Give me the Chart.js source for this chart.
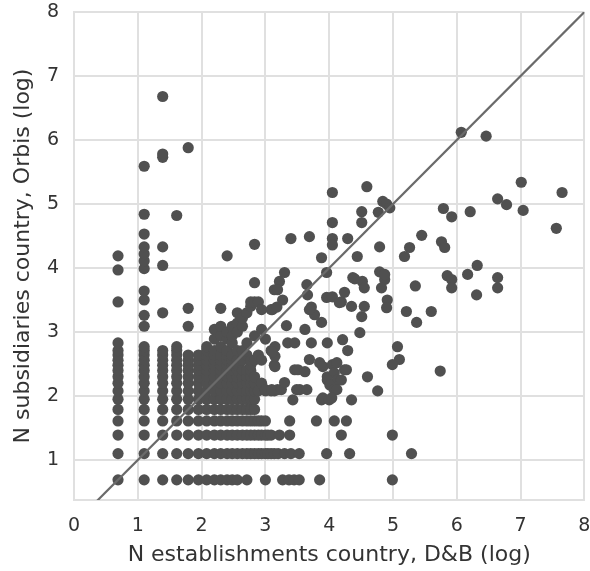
<!DOCTYPE html>
<html>
<head>
<meta charset="utf-8">
<script src="https://cdn.jsdelivr.net/npm/chart.js@4/dist/chart.umd.min.js"></script>
<style>
  html, body { margin: 0; padding: 0; background: #ffffff; }
  #wrap { width: 590px; height: 571px; }
</style>
</head>
<body>
<div id="wrap"><canvas id="c" width="590" height="571"></canvas></div>
<script>
// ---- data (log values) ----
const xTicks = [0, 1, 2, 3, 4, 5, 6, 7, 8];
const yTicks = [1, 2, 3, 4, 5, 6, 7, 8];
const diagonalX = [0, 8];
const diagonalY = [0, 8];

// columns of discrete log(count) values on the left part of the plot
const colX = [0.69, 1.10, 1.39, 1.61, 1.79, 1.95, 2.08, 2.20, 2.30, 2.40, 2.48, 2.56, 2.64, 2.71, 2.77, 2.83, 2.89, 2.94, 3.00, 3.04, 3.09, 3.14];
const colY = [
  [0.69,1.10,1.39,1.61,1.79,1.95,2.08,2.20,2.30,2.40,2.48,2.56,2.64,2.71,2.83,3.47,3.97,4.19],
  [0.69,1.10,1.39,1.61,1.79,1.95,2.08,2.20,2.30,2.40,2.48,2.56,2.64,2.71,2.77,3.09,3.26,3.50,3.64,3.99,4.11,4.22,4.33,4.53,4.84,5.59],
  [0.69,1.10,1.39,1.61,1.79,1.95,2.08,2.20,2.30,2.40,2.48,2.56,2.64,2.71,3.30,4.04,4.33,5.73,5.78,6.68],
  [0.69,1.10,1.39,1.61,1.79,1.95,2.08,2.20,2.30,2.40,2.48,2.56,2.64,2.71,2.77,4.82],
  [0.69,1.10,1.39,1.61,1.79,1.95,2.08,2.20,2.30,2.40,2.48,2.56,2.64,3.09,3.37,5.88],
  [0.69,1.10,1.39,1.61,1.79,1.95,2.08,2.20,2.30,2.40,2.48,2.56,2.64],
  [0.69,1.10,1.39,1.61,1.79,1.95,2.08,2.20,2.30,2.40,2.48,2.56,2.64,2.71,2.77],
  [0.69,1.10,1.39,1.61,1.79,1.95,2.08,2.20,2.30,2.40,2.48,2.56,2.64,2.71,2.89,3.04],
  [0.69,1.10,1.39,1.61,1.79,1.95,2.08,2.20,2.30,2.40,2.48,2.56,2.64,2.77,2.94,3.09,3.37],
  [0.69,1.10,1.39,1.61,1.79,1.95,2.08,2.20,2.30,2.40,2.48,2.56,2.64,2.71,2.89,3.00,4.19],
  [0.69,1.10,1.39,1.61,1.79,1.95,2.08,2.20,2.30,2.40,2.48,2.56,2.64,2.83,2.94,3.09],
  [0.69,1.10,1.39,1.61,1.79,1.95,2.08,2.20,2.30,2.40,2.48,2.56,2.71,3.00,3.14,3.30],
  [1.10,1.39,1.61,1.79,1.95,2.08,2.20,2.30,2.40,2.56,2.71,3.09,3.22],
  [0.69,1.10,1.39,1.61,1.79,1.95,2.08,2.20,2.30,2.40,2.64,2.83,3.30],
  [1.10,1.39,1.61,1.79,1.95,2.08,2.20,2.30,2.40,2.48,2.56,3.40,3.47],
  [1.10,1.39,1.61,1.79,1.95,2.08,2.20,2.30,2.56,2.94,3.47,3.77,4.37],
  [1.10,1.39,1.61,2.08,2.64,3.47],
  [1.10,1.39,1.61,2.20,2.56,3.04,3.35],
  [0.69,1.10,1.39,1.61,2.08,2.89],
  [1.10,1.39],
  [1.10,1.39,2.08,2.71,3.35],
  [1.10,2.08,2.48,3.66]
];

// remaining individual points
const otherX = [
  3.27,3.37,3.45,3.53,3.85,4.99,
  3.20,3.30,3.40,3.53,3.96,4.32,5.29,
  3.22,3.38,4.19,4.99,
  3.38,3.80,4.08,4.27,
  3.19,3.00,3.10,3.25,3.30,3.43,3.49,3.54,3.65,3.46,3.51,3.62,3.69,3.85,3.90,4.05,4.12,4.24,4.27,3.97,4.08,4.13,4.19,3.97,4.01,4.08,4.12,3.88,3.90,4.00,4.04,4.35,4.60,4.76,
  3.15,3.15,3.15,3.11,
  3.35,3.46,3.72,3.97,4.21,4.29,3.33,3.62,3.88,3.72,3.77,3.69,3.11,3.18,3.27,3.65,3.66,3.96,4.05,4.24,4.19,4.16,4.35,4.55,4.51,4.48,3.30,3.22,3.19,4.37,4.52,4.55,4.40,4.79,4.87,4.87,4.82,4.91,4.90,5.21,5.60,5.37,5.35,5.85,5.92,5.92,6.31,6.64,6.64,6.17,6.32,5.07,5.10,4.99,5.74,3.96,
  3.40,3.69,3.88,4.05,4.05,4.05,4.29,4.44,4.79,4.05,4.59,4.84,4.90,4.95,4.77,4.51,4.51,5.26,5.18,5.45,5.76,5.81,6.07,6.46,7.01,7.65,7.56,6.64,6.78,7.04,5.79,5.92,6.21
];
const otherY = [
  0.69,0.69,0.69,0.69,0.69,0.69,
  1.10,1.10,1.10,1.10,1.10,1.10,1.10,
  1.39,1.39,1.39,1.39,
  1.61,1.61,1.61,1.61,
  2.10,2.10,2.10,2.10,2.21,1.94,2.10,2.10,2.10,2.41,2.41,2.38,2.57,2.52,2.46,2.49,2.52,2.41,2.41,2.30,2.36,2.25,2.25,2.25,2.17,2.10,2.10,1.94,1.97,1.94,1.97,1.94,2.30,2.08,
  2.46,2.62,2.77,2.69,
  2.83,2.83,2.83,2.83,2.88,2.71,3.10,3.04,3.15,3.39,3.27,3.35,3.35,3.39,3.50,3.74,3.58,3.54,3.55,3.62,3.47,3.46,3.40,3.40,3.24,2.99,3.93,3.79,3.66,3.85,3.79,3.69,3.83,3.94,3.82,3.90,3.69,3.50,3.38,3.32,3.32,3.15,3.72,3.88,3.82,3.69,3.58,3.85,3.69,3.90,4.04,2.77,2.57,2.49,2.39,3.93,
  4.46,4.49,4.16,4.71,4.46,4.36,4.46,4.18,4.33,5.18,5.27,5.04,5.00,4.94,4.87,4.88,4.71,4.32,4.18,4.51,4.41,4.32,6.12,6.06,5.34,5.18,4.62,5.08,4.99,4.90,4.93,4.80,4.88
];

// ---- build tables for the library ----
const points = [];
colX.forEach((x, i) => colY[i].forEach(y => points.push({x: x, y: y})));
otherX.forEach((x, i) => points.push({x: x, y: otherY[i]}));
const diag = diagonalX.map((x, i) => ({x: x, y: diagonalY[i]}));

const FONT = "'DejaVu Sans', 'Liberation Sans', sans-serif";
const TXT = '#333333';
const GRID = '#e0e0e0';

new Chart(document.getElementById('c'), {
  type: 'scatter',
  data: {
    datasets: [
      {
        type: 'line',
        data: diag,
        borderColor: '#6a6a6a',
        borderWidth: 2.2,
        pointRadius: 0,
        fill: false,
        order: 0,
        clip: 0
      },
      {
        data: points,
        backgroundColor: '#505050',
        borderWidth: 0,
        pointRadius: 5.6,
        pointHoverRadius: 5.6,
        order: 1
      }
    ]
  },
  options: {
    responsive: false,
    animation: false,
    events: [],
    layout: { padding: { top: 12, right: 5, left: 0, bottom: 0 } },
    plugins: { legend: { display: false }, tooltip: { enabled: false } },
    scales: {
      x: {
        type: 'linear',
        min: 0, max: 8,
        afterBuildTicks: s => { s.ticks = xTicks.map(v => ({value: v})); },
        afterFit: s => { s.height = 71; s.paddingLeft = 0; s.paddingRight = 0; },
        grid: { color: GRID, lineWidth: 2, drawTicks: false },
        border: { display: true, color: GRID, width: 2 },
        ticks: { color: TXT, font: { family: FONT, size: 19 }, padding: 15, maxRotation: 0 },
        title: { display: true, text: 'N establishments country, D&B (log)', color: TXT,
                 font: { family: FONT, size: 22 }, padding: { top: 0, bottom: 3 } }
      },
      y: {
        type: 'linear',
        min: 0.375, max: 8,
        afterBuildTicks: s => { s.ticks = yTicks.map(v => ({value: v})); },
        afterFit: s => { s.width = 74; s.paddingTop = 0; s.paddingBottom = 0; },
        grid: { color: GRID, lineWidth: 2, drawTicks: false },
        border: { display: true, color: GRID, width: 2 },
        ticks: { color: TXT, font: { family: FONT, size: 19 }, padding: 15 },
        title: { display: true, text: 'N subsidiaries country, Orbis (log)', color: TXT,
                 font: { family: FONT, size: 22 }, padding: { top: 10, bottom: 0 } }
      }
    }
  }
});
</script>
</body>
</html>
